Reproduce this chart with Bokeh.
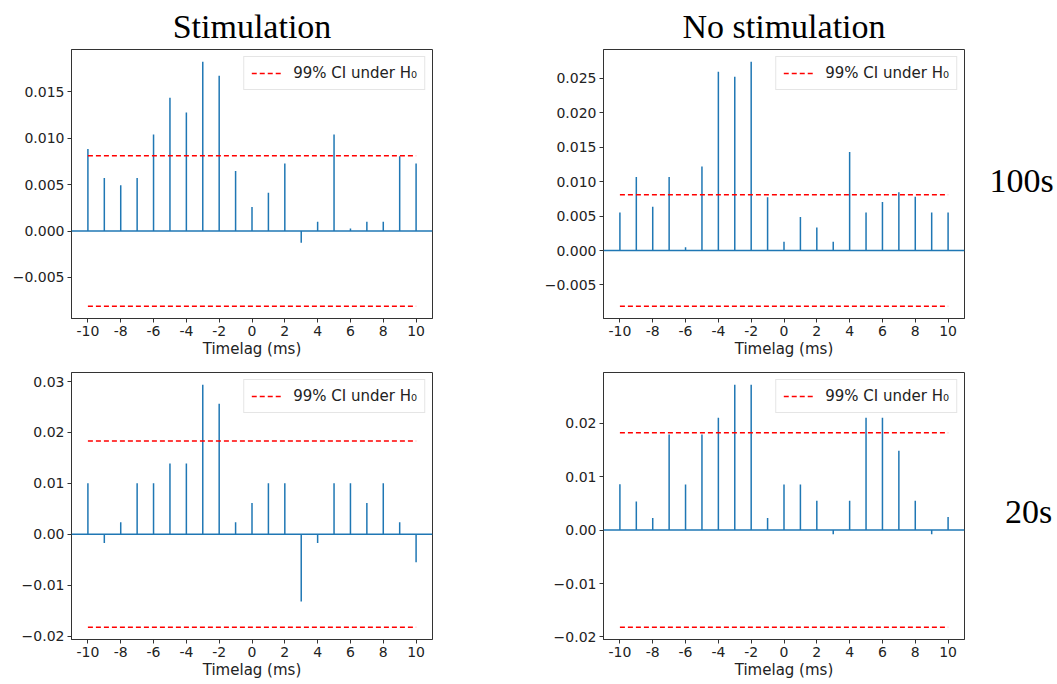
from bokeh.plotting import figure
from bokeh.layouts import column, row
from bokeh.models import Range1d, FixedTicker, Span, Legend, LegendItem, Label
from bokeh.embed import file_html
from bokeh.resources import INLINE

lags = list(range(-10, 11))

stim_100 = [0.00885, 0.00572, 0.00493, 0.00572, 0.0104, 0.01435, 0.01277, 0.01824, 0.01673,
            0.00647, 0.00259, 0.00414, 0.00727, -0.00126, 0.00101, 0.0104, 0.00029, 0.00101,
            0.00101, 0.00806, 0.00727]
nostim_100 = [0.00554, 0.0107, 0.00637, 0.0107, 0.00049, 0.0122, 0.02597, 0.02524, 0.02743,
              0.00773, 0.00126, 0.00486, 0.00336, 0.00126, 0.0143, 0.00554, 0.00705, 0.00846,
              0.00783, 0.00554, 0.00554]
stim_20 = [0.0100, -0.0017, 0.00235, 0.0100, 0.0100, 0.01389, 0.01389, 0.0294, 0.02562,
           0.00235, 0.00613, 0.0100, 0.0100, -0.01323, -0.0017, 0.0100, 0.0100, 0.00613,
           0.0100, 0.00235, -0.00548]
nostim_20 = [0.00857, 0.00534, 0.00224, 0.01789, 0.0085, 0.01789, 0.0210, 0.0272, 0.0272,
             0.00224, 0.0085, 0.0085, 0.00547, -0.0008, 0.00547, 0.0210, 0.0210, 0.01484,
             0.00547, -0.0008, 0.00242]

ci_stim_100 = 0.0081
ci_nostim_100 = 0.0081
ci_stim_20 = 0.0183
ci_nostim_20 = 0.0182

x_ticks = [-10, -8, -6, -4, -2, 0, 2, 4, 6, 8, 10]
x_tick_labels = ["-10", "-8", "-6", "-4", "-2", "0", "2", "4", "6", "8", "10"]

y_ticks_stim_100 = [-0.005, 0.0, 0.005, 0.010, 0.015]
y_labels_stim_100 = ["\u22120.005", "0.000", "0.005", "0.010", "0.015"]
y_ticks_nostim_100 = [-0.005, 0.0, 0.005, 0.010, 0.015, 0.020, 0.025]
y_labels_nostim_100 = ["\u22120.005", "0.000", "0.005", "0.010", "0.015", "0.020", "0.025"]
y_ticks_20 = [-0.02, -0.01, 0.0, 0.01, 0.02, 0.03]
y_labels_20 = ["\u22120.02", "\u22120.01", "0.00", "0.01", "0.02", "0.03"]

col_titles = ["Stimulation", "No stimulation"]
row_titles = ["100s", "20s"]
legend_label = "99% CI under H\u2080"
x_label = "Timelag (ms)"

STEM = "#1f77b4"
SANS = "DejaVu Sans"
SERIF = "Liberation Serif"


def panel(vals, ci, yticks, ylabels, width, height, bl, br, bt, bb, title=None):
    lo = min(min(vals), -ci)
    hi = max(max(vals), ci)
    pad = 0.05 * (hi - lo)
    p = figure(width=width, height=height, output_backend="svg", toolbar_location=None,
               x_range=Range1d(-11, 11), y_range=Range1d(lo - pad, hi + pad),
               min_border_left=bl, min_border_right=br, min_border_top=bt, min_border_bottom=bb)
    p.xgrid.visible = False
    p.ygrid.visible = False
    p.outline_line_color = "#333333"
    p.outline_line_width = 1
    p.background_fill_color = "white"
    p.border_fill_color = "white"

    p.add_layout(Span(location=0, dimension="width", line_color=STEM, line_width=1.5))
    p.segment(x0=lags, y0=[0] * len(lags), x1=lags, y1=vals, line_color=STEM, line_width=1.5)
    up = p.line(x=[lags[0], lags[-1]], y=[ci, ci], line_color="red", line_width=1.5, line_dash="5 3")
    p.line(x=[lags[0], lags[-1]], y=[-ci, -ci], line_color="red", line_width=1.5, line_dash="5 3")

    leg = Legend(items=[LegendItem(label=legend_label, renderers=[up])], location="top_right",
                 label_text_font=SANS, label_text_font_size="15px", label_text_color="#222222",
                 border_line_color="#cccccc", border_line_width=1, background_fill_alpha=0.9,
                 glyph_width=30, glyph_height=16, label_standoff=12, padding=7, margin=7,
                 label_height=16, spacing=0)
    p.add_layout(leg)

    p.xaxis.ticker = FixedTicker(ticks=x_ticks)
    p.xaxis.major_label_overrides = dict(zip(x_ticks, x_tick_labels))
    p.yaxis.ticker = FixedTicker(ticks=yticks)
    p.yaxis.major_label_overrides = dict(zip(yticks, ylabels))
    for ax in (p.xaxis, p.yaxis):
        ax.major_label_text_font = SANS
        ax.major_label_text_font_size = "14px"
        ax.major_label_text_color = "#222222"
        ax.major_tick_out = 4
        ax.major_tick_in = 0
        ax.minor_tick_out = 0
        ax.minor_tick_in = 0
        ax.axis_line_color = "#333333"
        ax.major_tick_line_color = "#333333"
        ax.major_label_standoff = 3
    p.xaxis.axis_label = x_label
    p.xaxis.axis_label_text_font = SANS
    p.xaxis.axis_label_text_font_size = "15px"
    p.xaxis.axis_label_text_font_style = "normal"
    p.xaxis.axis_label_text_color = "#222222"
    p.xaxis.axis_label_standoff = 1

    if title:
        p.title.text = title
        p.title.align = "center"
        p.title.text_font = SERIF
        p.title.text_font_size = "34px"
        p.title.text_font_style = "normal"
        p.title.text_color = "black"
    return p


def side_label(text, width, height, sx, sy):
    s = figure(width=width, height=height, output_backend="svg", toolbar_location=None,
               x_range=Range1d(0, 1), y_range=Range1d(0, 1),
               min_border_left=0, min_border_right=0, min_border_top=0, min_border_bottom=0)
    s.xaxis.visible = False
    s.yaxis.visible = False
    s.xgrid.visible = False
    s.ygrid.visible = False
    s.outline_line_color = None
    s.add_layout(Label(x=sx, y=sy, x_units="screen", y_units="screen",
                       text=text, text_font=SERIF, text_font_size="34px",
                       text_align="center", text_baseline="middle", text_color="black"))
    return s


p1 = panel(stim_100, ci_stim_100, y_ticks_stim_100, y_labels_stim_100, 520, 360, 71, 88, 49, 42,
           title=col_titles[0])
p2 = panel(nostim_100, ci_nostim_100, y_ticks_nostim_100, y_labels_nostim_100, 448, 360, 83, 4, 49, 42,
           title=col_titles[1])
p3 = panel(stim_20, ci_stim_20, y_ticks_20, y_labels_20, 520, 324, 71, 88, 12, 45)
p4 = panel(nostim_20, ci_nostim_20, y_ticks_20[:-1], y_labels_20[:-1], 448, 324, 83, 4, 12, 45)

s1 = side_label(row_titles[0], 89, 360, 53, 138)
s2 = side_label(row_titles[1], 89, 324, 60, 128)

layout = column(row(p1, p2, s1, spacing=0), row(p3, p4, s2, spacing=0), spacing=0)

open("out.html", "w").write(file_html(layout, INLINE))
